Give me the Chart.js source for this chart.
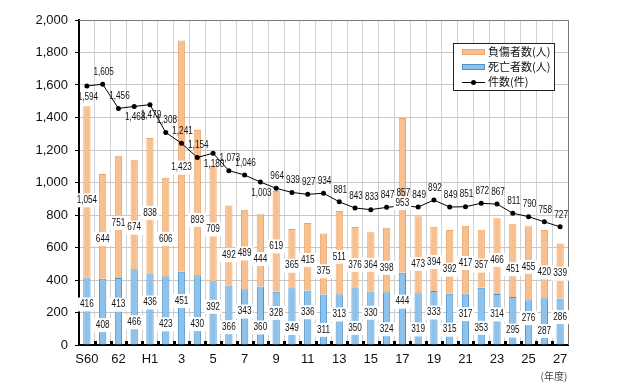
<!DOCTYPE html>
<html>
<head>
<meta charset="utf-8">
<script src="https://cdn.jsdelivr.net/npm/chart.js@4.4.1/dist/chart.umd.min.js"></script>
<style>
  html, body { margin: 0; padding: 0; background: #fff; }
  #wrap { width: 640px; height: 391px; }
</style>
</head>
<body>
<div id="wrap"><canvas id="accChart"></canvas></div>
<script>
// 年度 (S60 .. H27)
const years = ['S60', '61', '62', '63', 'H1', '2', '3', '4', '5', '6', '7', '8', '9', '10', '11', '12',
  '13', '14', '15', '16', '17', '18', '19', '20', '21', '22', '23', '24', '25', '26', '27'];
// 死亡者数(人)
const deaths = [416, 408, 413, 466, 436, 423, 451, 430, 392, 366, 343, 360, 328, 349, 336, 311,
  313, 350, 330, 324, 444, 319, 333, 315, 317, 353, 314, 295, 276, 287, 286];
// 負傷者数(人)
const injuries = [1054, 644, 751, 674, 838, 606, 1423, 893, 709, 492, 489, 444, 619, 365, 415, 375,
  511, 376, 364, 398, 953, 473, 394, 392, 417, 357, 466, 451, 455, 420, 339];
// 件数(件)
const cases = [1594, 1605, 1456, 1468, 1479, 1308, 1241, 1154, 1180, 1073, 1046, 1003, 964, 939, 927, 934,
  881, 843, 833, 847, 857, 849, 892, 849, 851, 872, 867, 811, 790, 758, 727];
const yTicks = [0, 200, 400, 600, 800, 1000, 1200, 1400, 1600, 1800, 2000];

const ORANGE = '#f8c08f', ORANGE_EDGE = '#eba56c';
const BLUE = '#8cc2ec', BLUE_EDGE = '#4a92cc';
const fmt = n => n.toLocaleString('en-US');

// line labels that sit under the point instead of above it
const caseLabelBelow = [0, 3, 4, 8, 11];

function valueLabel(ctx, text, x, y, boxed) {
  ctx.save();
  ctx.font = '10px "Liberation Sans", Arial, sans-serif';
  const squeeze = 0.82;
  const w = ctx.measureText(text).width * squeeze;
  if (boxed) {
    ctx.fillStyle = '#fff';
    ctx.fillRect(x - w / 2 - 2, y - 7, w + 4, 14);
  }
  ctx.translate(x, y);
  ctx.scale(squeeze, 1);
  ctx.fillStyle = '#111';
  ctx.textAlign = 'center';
  ctx.textBaseline = 'middle';
  ctx.fillText(text, 0, 0);
  ctx.restore();
}

const decorations = {
  id: 'decorations',
  beforeDatasetsDraw(chart) {
    const { ctx, chartArea: a } = chart;
    ctx.save();
    ctx.strokeStyle = '#7a7a7a';
    ctx.lineWidth = 1;
    ctx.beginPath();
    ctx.moveTo(a.left, a.top + 0.5);
    ctx.lineTo(a.right + 0.5, a.top + 0.5);
    ctx.lineTo(a.right + 0.5, a.bottom);
    ctx.stroke();
    ctx.restore();
  },
  afterDatasetsDraw(chart) {
    const { ctx, chartArea: a } = chart;
    const y = chart.scales.y;

    // small tick marks on the bottom axis, between bars
    ctx.save();
    ctx.fillStyle = '#000';
    const step = (a.right - a.left) / years.length;
    for (let i = 1; i < years.length; i++) {
      const px = Math.round(a.left + step * i);
      ctx.fillRect(px - 1, a.bottom - 4, 3, 4);
    }
    ctx.restore();

    const barMeta = chart.getDatasetMeta(0);
    years.forEach((_, i) => {
      const px = barMeta.data[i].x;
      const dv = deaths[i] * (i % 2 === 0 ? 0.6 : 0.3);
      valueLabel(ctx, fmt(deaths[i]), px, y.getPixelForValue(dv), true);
      const iv = deaths[i] + injuries[i] * (i % 2 === 0 ? 0.45 : 0.38);
      valueLabel(ctx, fmt(injuries[i]), px, y.getPixelForValue(iv), true);
      const cy = y.getPixelForValue(cases[i]);
      const off = caseLabelBelow.includes(i) ? 11 : -12;
      valueLabel(ctx, fmt(cases[i]), px + 1, cy + off, false);
    });

    // legend box
    const lx = a.right - 115, ly = a.top + 23, lw = 101, lh = 47;
    ctx.save();
    ctx.fillStyle = '#fff';
    ctx.fillRect(lx, ly, lw, lh);
    ctx.strokeStyle = '#222';
    ctx.lineWidth = 1;
    ctx.strokeRect(lx + 0.5, ly + 0.5, lw, lh);
    ctx.font = '11px "Noto Sans CJK JP", sans-serif';
    ctx.textBaseline = 'middle';
    const items = [
      { text: '負傷者数(人)', fill: ORANGE, edge: ORANGE_EDGE },
      { text: '死亡者数(人)', fill: BLUE, edge: BLUE_EDGE },
      { text: '件数(件)', line: true }
    ];
    items.forEach((it, k) => {
      const cy = ly + 9 + k * 15;
      if (it.line) {
        ctx.strokeStyle = '#000';
        ctx.beginPath();
        ctx.moveTo(lx + 9, cy + 0.5);
        ctx.lineTo(lx + 32, cy + 0.5);
        ctx.stroke();
        ctx.fillStyle = '#000';
        ctx.beginPath();
        ctx.arc(lx + 20.5, cy + 0.5, 2.5, 0, Math.PI * 2);
        ctx.fill();
      } else {
        ctx.fillStyle = it.fill;
        ctx.fillRect(lx + 9, cy - 3, 23, 6);
        ctx.strokeStyle = it.edge;
        ctx.strokeRect(lx + 9.5, cy - 2.5, 22, 5);
      }
      ctx.fillStyle = '#111';
      ctx.fillText(it.text, lx + 35, cy);
    });
    ctx.restore();

    // unit
    ctx.save();
    ctx.font = '10px "Noto Sans CJK JP", sans-serif';
    ctx.fillStyle = '#444';
    ctx.textAlign = 'center';
    ctx.textBaseline = 'middle';
    ctx.fillText('(年度)', a.right - 14, a.bottom + 31);
    ctx.restore();
  }
};

new Chart(document.getElementById('accChart'), {
  data: {
    labels: years,
    datasets: [
      {
        type: 'bar',
        label: '死亡者数(人)',
        data: deaths,
        backgroundColor: BLUE,
        borderColor: BLUE_EDGE,
        borderWidth: 1,
        stack: 'people',
        barPercentage: 0.46,
        categoryPercentage: 1,
        order: 2
      },
      {
        type: 'bar',
        label: '負傷者数(人)',
        data: injuries,
        backgroundColor: ORANGE,
        borderColor: ORANGE_EDGE,
        borderWidth: 1,
        stack: 'people',
        barPercentage: 0.46,
        categoryPercentage: 1,
        order: 2
      },
      {
        type: 'line',
        label: '件数(件)',
        data: cases,
        borderColor: '#000',
        borderWidth: 1,
        pointRadius: 2.5,
        pointBackgroundColor: '#000',
        pointBorderWidth: 0,
        stack: 'cases',
        order: 1
      }
    ]
  },
  options: {
    responsive: true,
    maintainAspectRatio: false,
    animation: false,
    layout: { padding: { left: 0, right: 72, top: 20, bottom: 0 } },
    plugins: {
      legend: { display: false },
      tooltip: { enabled: false }
    },
    scales: {
      x: {
        stacked: true,
        grid: { color: '#d2d2d2', drawTicks: false, offset: true },
        border: { color: '#000', width: 2 },
        ticks: {
          autoSkip: false,
          maxRotation: 0,
          padding: 7,
          color: '#111',
          font: { family: '"Liberation Sans", Arial, sans-serif', size: 13 },
          callback: (v, i) => (i % 2 === 0 ? years[i] : '')
        },
        afterFit: s => { s.height = 46; }
      },
      y: {
        stacked: true,
        min: 0,
        max: 2000,
        afterBuildTicks: s => { s.ticks = yTicks.map(v => ({ value: v })); },
        grid: { color: '#c8c8c8', tickColor: '#000', tickLength: 4 },
        border: { color: '#000', width: 2 },
        ticks: {
          padding: 7,
          color: '#111',
          font: { family: '"Liberation Sans", Arial, sans-serif', size: 13 },
          callback: v => fmt(v)
        },
        afterFit: s => { s.width = 79; }
      }
    }
  },
  plugins: [decorations]
});
</script>
</body>
</html>
